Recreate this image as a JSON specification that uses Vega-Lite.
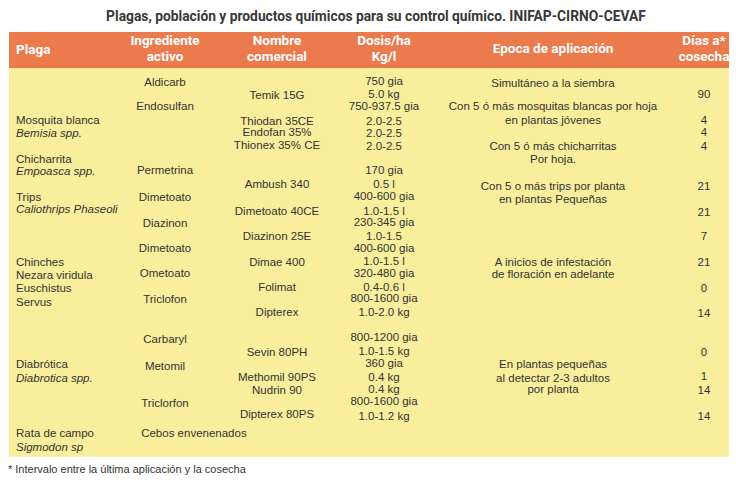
{
  "$schema": "https://vega.github.io/schema/vega-lite/v6.json",
  "width": 736,
  "height": 482,
  "autosize": "none",
  "padding": 0,
  "background": "white",
  "config": {"view": {"stroke": null}},
  "datasets": {
    "encabezados": [
      {"col": 1, "linea": -3.28, "texto": "Ingrediente"},
      {"col": 1, "linea": -2.0, "texto": "activo"},
      {"col": 2, "linea": -3.28, "texto": "Nombre"},
      {"col": 2, "linea": -2.0, "texto": "comercial"},
      {"col": 3, "linea": -3.28, "texto": "Dosis/ha"},
      {"col": 3, "linea": -2.0, "texto": "Kg/l"},
      {"col": 4, "linea": -2.68, "texto": "Epoca de aplicación"},
      {"col": 5, "linea": -3.28, "texto": "Días a*"},
      {"col": 5, "linea": -2.0, "texto": "cosecha"}
    ],
    "plagas": [
      {"linea": 2.95, "texto": "Mosquita blanca", "tipo": "común"},
      {"linea": 3.98, "texto": "Bemisia spp.", "tipo": "científico"},
      {"linea": 6.02, "texto": "Chicharrita", "tipo": "común"},
      {"linea": 6.93, "texto": "Empoasca spp.", "tipo": "científico"},
      {"linea": 8.96, "texto": "Trips", "tipo": "común"},
      {"linea": 9.92, "texto": "Caliothrips Phaseoli", "tipo": "científico"},
      {"linea": 14.04, "texto": "Chinches", "tipo": "común"},
      {"linea": 15.05, "texto": "Nezara viridula", "tipo": "común"},
      {"linea": 16.1, "texto": "Euschistus", "tipo": "común"},
      {"linea": 17.16, "texto": "Servus", "tipo": "común"},
      {"linea": 22.03, "texto": "Diabrótica", "tipo": "común"},
      {"linea": 23.15, "texto": "Diabrotica spp.", "tipo": "científico"},
      {"linea": 27.42, "texto": "Rata de campo", "tipo": "común"},
      {"linea": 28.54, "texto": "Sigmodon sp", "tipo": "científico"}
    ],
    "celdas": [
      {"col": 1, "linea": 0.0, "texto": "Aldicarb"},
      {"col": 1, "linea": 1.9, "texto": "Endosulfan"},
      {"col": 1, "linea": 6.85, "texto": "Permetrina"},
      {"col": 1, "linea": 8.96, "texto": "Dimetoato"},
      {"col": 1, "linea": 11.04, "texto": "Diazinon"},
      {"col": 1, "linea": 13.0, "texto": "Dimetoato"},
      {"col": 1, "linea": 14.9, "texto": "Ometoato"},
      {"col": 1, "linea": 16.95, "texto": "Triclofon"},
      {"col": 1, "linea": 20.1, "texto": "Carbaryl"},
      {"col": 1, "linea": 22.15, "texto": "Metomil"},
      {"col": 1, "linea": 25.1, "texto": "Triclorfon"},
      {"col": 2, "linea": 1.05, "texto": "Temik 15G"},
      {"col": 2, "linea": 3.02, "texto": "Thiodan 35CE"},
      {"col": 2, "linea": 3.88, "texto": "Endofan 35%"},
      {"col": 2, "linea": 4.92, "texto": "Thionex 35% CE"},
      {"col": 2, "linea": 7.97, "texto": "Ambush 340"},
      {"col": 2, "linea": 10.05, "texto": "Dimetoato 40CE"},
      {"col": 2, "linea": 12.0, "texto": "Diazinon 25E"},
      {"col": 2, "linea": 14.05, "texto": "Dimae 400"},
      {"col": 2, "linea": 16.04, "texto": "Folimat"},
      {"col": 2, "linea": 17.95, "texto": "Dipterex"},
      {"col": 2, "linea": 21.07, "texto": "Sevin 80PH"},
      {"col": 2, "linea": 23.07, "texto": "Methomil 90PS"},
      {"col": 2, "linea": 24.04, "texto": "Nudrin 90"},
      {"col": 2, "linea": 25.94, "texto": "Dipterex 80PS"},
      {"col": 3, "linea": -0.1, "texto": "750 gia"},
      {"col": 3, "linea": 0.94, "texto": "5.0 kg"},
      {"col": 3, "linea": 1.9, "texto": "750-937.5 gia"},
      {"col": 3, "linea": 3.02, "texto": "2.0-2.5"},
      {"col": 3, "linea": 4.0, "texto": "2.0-2.5"},
      {"col": 3, "linea": 5.02, "texto": "2.0-2.5"},
      {"col": 3, "linea": 6.85, "texto": "170 gia"},
      {"col": 3, "linea": 7.97, "texto": "0.5 l"},
      {"col": 3, "linea": 8.88, "texto": "400-600 gia"},
      {"col": 3, "linea": 10.05, "texto": "1.0-1.5 l"},
      {"col": 3, "linea": 10.96, "texto": "230-345 gia"},
      {"col": 3, "linea": 12.0, "texto": "1.0-1.5"},
      {"col": 3, "linea": 12.99, "texto": "400-600 gia"},
      {"col": 3, "linea": 13.96, "texto": "1.0-1.5 l"},
      {"col": 3, "linea": 14.95, "texto": "320-480 gia"},
      {"col": 3, "linea": 15.99, "texto": "0.4-0.6 l"},
      {"col": 3, "linea": 16.9, "texto": "800-1600 gia"},
      {"col": 3, "linea": 17.95, "texto": "1.0-2.0 kg"},
      {"col": 3, "linea": 19.95, "texto": "800-1200 gia"},
      {"col": 3, "linea": 20.99, "texto": "1.0-1.5 kg"},
      {"col": 3, "linea": 21.95, "texto": "360 gia"},
      {"col": 3, "linea": 23.02, "texto": "0.4 kg"},
      {"col": 3, "linea": 23.98, "texto": "0.4 kg"},
      {"col": 3, "linea": 24.9, "texto": "800-1600 gia"},
      {"col": 3, "linea": 26.07, "texto": "1.0-1.2 kg"},
      {"col": 4, "linea": 0.08, "texto": "Simultáneo a la siembra"},
      {"col": 4, "linea": 1.9, "texto": "Con 5 ó más mosquitas blancas por hoja"},
      {"col": 4, "linea": 2.95, "texto": "en plantas jóvenes"},
      {"col": 4, "linea": 5.02, "texto": "Con 5 ó más chicharritas"},
      {"col": 4, "linea": 6.02, "texto": "Por hoja."},
      {"col": 4, "linea": 8.1, "texto": "Con 5 o más trips por planta"},
      {"col": 4, "linea": 9.14, "texto": "en plantas Pequeñas"},
      {"col": 4, "linea": 14.04, "texto": "A inicios de infestación"},
      {"col": 4, "linea": 15.0, "texto": "de floración en adelante"},
      {"col": 4, "linea": 22.03, "texto": "En plantas pequeñas"},
      {"col": 4, "linea": 23.15, "texto": "al detectar 2-3 adultos"},
      {"col": 4, "linea": 23.98, "texto": "por planta"},
      {"col": 5, "linea": 0.94, "texto": "90"},
      {"col": 5, "linea": 2.95, "texto": "4"},
      {"col": 5, "linea": 3.93, "texto": "4"},
      {"col": 5, "linea": 5.02, "texto": "4"},
      {"col": 5, "linea": 8.1, "texto": "21"},
      {"col": 5, "linea": 10.13, "texto": "21"},
      {"col": 5, "linea": 12.0, "texto": "7"},
      {"col": 5, "linea": 14.04, "texto": "21"},
      {"col": 5, "linea": 16.12, "texto": "0"},
      {"col": 5, "linea": 18.07, "texto": "14"},
      {"col": 5, "linea": 21.12, "texto": "0"},
      {"col": 5, "linea": 22.95, "texto": "1"},
      {"col": 5, "linea": 24.04, "texto": "14"},
      {"col": 5, "linea": 26.07, "texto": "14"}
    ]
  },
  "layer": [
    {
      "data": {"values": [{"zona": "cuerpo"}]},
      "mark": {"type": "rect", "color": "#F9EE9C"},
      "encoding": {
        "x": {"datum": -0.047, "type": "quantitative", "scale": {"domain": [0, 1, 2, 3, 4, 5], "range": [16, 165, 277, 384, 553, 704], "nice": false, "zero": false}, "axis": null},
        "x2": {"datum": 5.166},
        "y": {"datum": -1.17, "type": "quantitative", "scale": {"domain": [0, 26], "range": [83, 415.8], "nice": false, "zero": false}, "axis": null},
        "y2": {"datum": 29.2}
      }
    },
    {
      "data": {"values": [{"zona": "encabezado"}]},
      "mark": {"type": "rect", "color": "#EB7A4D"},
      "encoding": {
        "x": {"datum": -0.047, "type": "quantitative", "scale": {"domain": [0, 1, 2, 3, 4, 5], "range": [16, 165, 277, 384, 553, 704], "nice": false, "zero": false}, "axis": null},
        "x2": {"datum": 5.166},
        "y": {"datum": -3.98, "type": "quantitative", "scale": {"domain": [0, 26], "range": [83, 415.8], "nice": false, "zero": false}, "axis": null},
        "y2": {"datum": -1.17}
      }
    },
    {
      "data": {"values": [{"texto": "Plagas, población y productos químicos para su control químico. INIFAP-CIRNO-CEVAF"}]},
      "mark": {"type": "text", "font": "Roboto", "fontWeight": "bold", "fontSize": 13.8, "color": "#383838", "align": "center", "baseline": "middle"},
      "encoding": {
        "x": {"datum": 2.925, "type": "quantitative", "scale": {"domain": [0, 1, 2, 3, 4, 5], "range": [16, 165, 277, 384, 553, 704], "nice": false, "zero": false}, "axis": null},
        "y": {"datum": -5.16, "type": "quantitative", "scale": {"domain": [0, 26], "range": [83, 415.8], "nice": false, "zero": false}, "axis": null},
        "text": {"field": "texto"}
      }
    },
    {
      "data": {"values": [{"texto": "Plaga"}]},
      "mark": {"type": "text", "font": "Roboto", "fontWeight": "bold", "fontSize": 13.5, "color": "white", "align": "left", "baseline": "middle"},
      "encoding": {
        "x": {"datum": 0, "type": "quantitative", "scale": {"domain": [0, 1, 2, 3, 4, 5], "range": [16, 165, 277, 384, 553, 704], "nice": false, "zero": false}, "axis": null},
        "y": {"datum": -2.6, "type": "quantitative", "scale": {"domain": [0, 26], "range": [83, 415.8], "nice": false, "zero": false}, "axis": null},
        "text": {"field": "texto"}
      }
    },
    {
      "data": {"name": "encabezados"},
      "mark": {"type": "text", "font": "Roboto", "fontWeight": "bold", "fontSize": 13.5, "color": "white", "align": "center", "baseline": "middle"},
      "encoding": {
        "x": {"field": "col", "type": "quantitative", "scale": {"domain": [0, 1, 2, 3, 4, 5], "range": [16, 165, 277, 384, 553, 704], "nice": false, "zero": false}, "axis": null},
        "y": {"field": "linea", "type": "quantitative", "scale": {"domain": [0, 26], "range": [83, 415.8], "nice": false, "zero": false}, "axis": null},
        "text": {"field": "texto"}
      }
    },
    {
      "data": {"name": "plagas"},
      "transform": [{"filter": "datum.tipo === 'común'"}],
      "mark": {"type": "text", "font": "Liberation Sans", "fontSize": 11.5, "color": "#333333", "align": "left", "baseline": "middle"},
      "encoding": {
        "x": {"datum": 0, "type": "quantitative", "scale": {"domain": [0, 1, 2, 3, 4, 5], "range": [16, 165, 277, 384, 553, 704], "nice": false, "zero": false}, "axis": null},
        "y": {"field": "linea", "type": "quantitative", "scale": {"domain": [0, 26], "range": [83, 415.8], "nice": false, "zero": false}, "axis": null},
        "text": {"field": "texto"}
      }
    },
    {
      "data": {"name": "plagas"},
      "transform": [{"filter": "datum.tipo === 'científico'"}],
      "mark": {"type": "text", "font": "Liberation Sans", "fontSize": 11.5, "fontStyle": "italic", "color": "#333333", "align": "left", "baseline": "middle"},
      "encoding": {
        "x": {"datum": 0, "type": "quantitative", "scale": {"domain": [0, 1, 2, 3, 4, 5], "range": [16, 165, 277, 384, 553, 704], "nice": false, "zero": false}, "axis": null},
        "y": {"field": "linea", "type": "quantitative", "scale": {"domain": [0, 26], "range": [83, 415.8], "nice": false, "zero": false}, "axis": null},
        "text": {"field": "texto"}
      }
    },
    {
      "data": {"name": "celdas"},
      "mark": {"type": "text", "font": "Liberation Sans", "fontSize": 11.5, "color": "#333333", "align": "center", "baseline": "middle"},
      "encoding": {
        "x": {"field": "col", "type": "quantitative", "scale": {"domain": [0, 1, 2, 3, 4, 5], "range": [16, 165, 277, 384, 553, 704], "nice": false, "zero": false}, "axis": null},
        "y": {"field": "linea", "type": "quantitative", "scale": {"domain": [0, 26], "range": [83, 415.8], "nice": false, "zero": false}, "axis": null},
        "text": {"field": "texto"}
      }
    },
    {
      "data": {"values": [{"texto": "Cebos envenenados"}]},
      "mark": {"type": "text", "font": "Liberation Sans", "fontSize": 11.5, "color": "#333333", "align": "left", "baseline": "middle"},
      "encoding": {
        "x": {"datum": 0.84, "type": "quantitative", "scale": {"domain": [0, 1, 2, 3, 4, 5], "range": [16, 165, 277, 384, 553, 704], "nice": false, "zero": false}, "axis": null},
        "y": {"datum": 27.4, "type": "quantitative", "scale": {"domain": [0, 26], "range": [83, 415.8], "nice": false, "zero": false}, "axis": null},
        "text": {"field": "texto"}
      }
    },
    {
      "data": {"values": [{"texto": "* Intervalo entre la última aplicación y la cosecha"}]},
      "mark": {"type": "text", "font": "Liberation Sans", "fontSize": 11, "color": "#333333", "align": "left", "baseline": "middle"},
      "encoding": {
        "x": {"datum": -0.054, "type": "quantitative", "scale": {"domain": [0, 1, 2, 3, 4, 5], "range": [16, 165, 277, 384, 553, 704], "nice": false, "zero": false}, "axis": null},
        "y": {"datum": 30.2, "type": "quantitative", "scale": {"domain": [0, 26], "range": [83, 415.8], "nice": false, "zero": false}, "axis": null},
        "text": {"field": "texto"}
      }
    }
  ]
}
